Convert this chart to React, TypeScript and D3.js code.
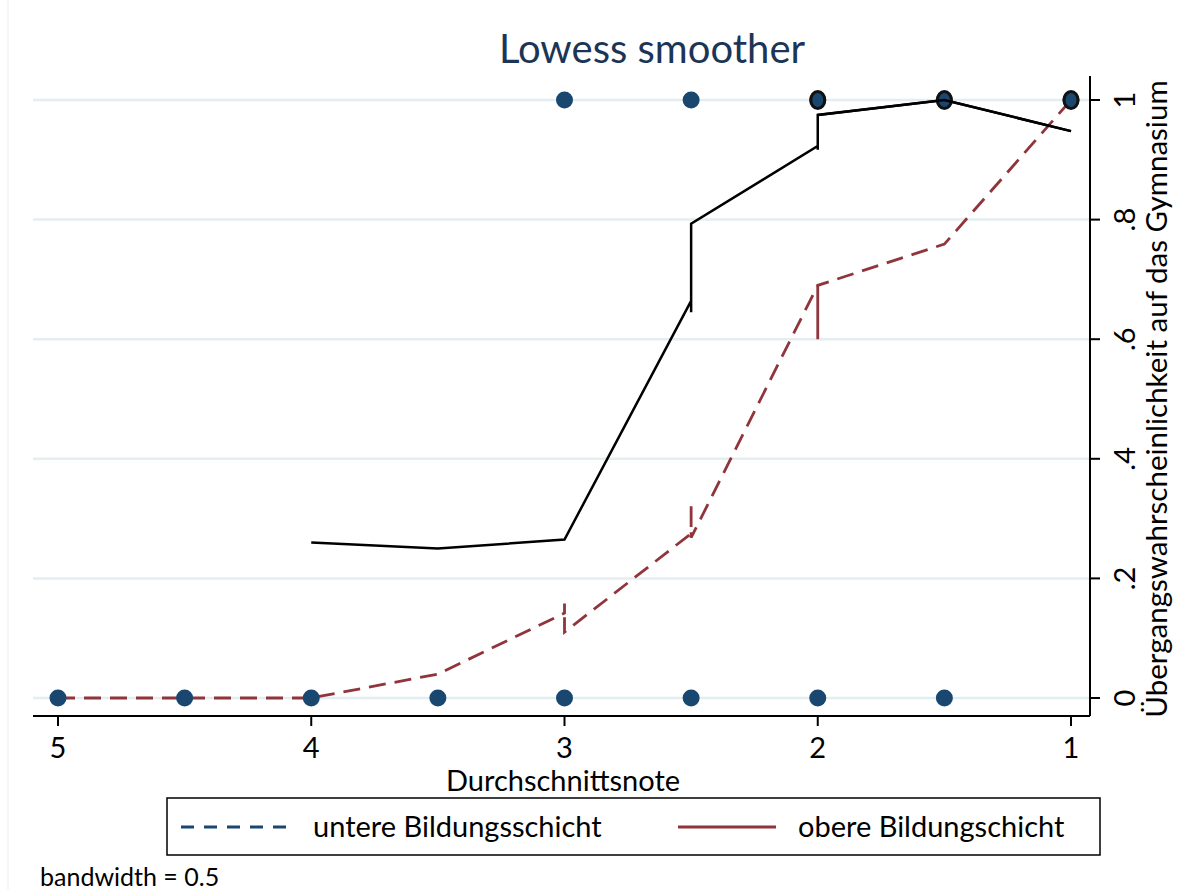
import React from "react";
import * as d3 from "d3";

// x ticks / y ticks
const xTicks = [5, 4, 3, 2, 1];
const yTicks = [0, 0.2, 0.4, 0.6, 0.8, 1];
const yTickLabels = ["0", ".2", ".4", ".6", ".8", "1"];

// observed points (Durchschnittsnote, Übergang)
const obsX = [5, 4.5, 4, 3.5, 3, 2.5, 2, 1.5, 3, 2.5, 2, 1.5, 1];
const obsY = [0, 0, 0, 0, 0, 0, 0, 0, 1, 1, 1, 1, 1];
// points drawn with black outline
const ringX = [2, 1.5, 1];
const ringY = [1, 1, 1];

// lowess fit, solid black (sorted by x, duplicates kept)
const solidX = [4, 3.5, 3, 2.5, 2.5, 2.5, 2, 2, 2, 1.5, 1];
const solidY = [0.26, 0.25, 0.265, 0.664, 0.645, 0.793, 0.923, 0.917, 0.975, 1.0, 0.948];

// lowess fit, dashed maroon
const dashX = [5, 4.5, 4, 3.5, 3, 3, 3, 2.5, 2.5, 2.5, 2, 2, 2, 1.5, 1];
const dashY = [0, 0, 0, 0.04, 0.142, 0.158, 0.11, 0.275, 0.325, 0.268, 0.69, 0.6, 0.69, 0.759, 1.0];

const NAVY = "#1a476f";
const MAROON = "#90353b";
const GRID = "#e4eef1";
const FONT = "Lato, 'Open Sans', sans-serif";

export default function App() {
  const W = 1201;
  const H = 890;
  const x = d3.scaleLinear().domain([5, 1]).range([58, 1071]);
  const y = d3.scaleLinear().domain([0, 1]).range([698, 100]);
  const left = 33;
  const right = 1090;
  const top = 76;
  const bottom = 716;

  const ln = d3
    .line<[number, number]>()
    .x((d) => x(d[0]))
    .y((d) => y(d[1]));

  const solid = ln(solidX.map((v, i) => [v, solidY[i]] as [number, number])) || "";
  const dashed = ln(dashX.map((v, i) => [v, dashY[i]] as [number, number])) || "";

  return (
    <svg
      width={W}
      height={H}
      style={{ position: "absolute", left: 0, top: 0, background: "#fff" }}
      fontFamily={FONT}
    >
      <rect x={0} y={0} width={W} height={H} fill="#fff" />
      <line x1={8} y1={0} x2={8} y2={H} stroke="#eeeeee" strokeWidth={1} />

      {/* gridlines */}
      {yTicks.map((t) => (
        <line key={t} x1={left} x2={right} y1={y(t)} y2={y(t)} stroke={GRID} strokeWidth={2.5} />
      ))}

      {/* title */}
      <text x={652} y={63} textAnchor="middle" fontSize={40} fill="#1c3557">
        Lowess smoother
      </text>

      {/* fitted lines */}
      <path d={dashed} fill="none" stroke={MAROON} strokeWidth={2.8} strokeDasharray="17,9" />
      <path d={solid} fill="none" stroke="#000" strokeWidth={2.5} />

      {/* observations */}
      {obsX.map((v, i) => (
        <circle key={"o" + i} cx={x(v)} cy={y(obsY[i])} r={8.5} fill={NAVY} />
      ))}
      {ringX.map((v, i) => (
        <ellipse
          key={"r" + i}
          cx={x(v)}
          cy={y(ringY[i])}
          rx={7}
          ry={8.5}
          fill={NAVY}
          stroke="#111"
          strokeWidth={3}
        />
      ))}
      {/* line passes over the ring at 1.5 */}
      <path d={ln([[2, 0.975], [1.5, 1.0], [1, 0.948]]) || ""} fill="none" stroke="#000" strokeWidth={2.5} />

      {/* bottom axis */}
      <line x1={left} x2={right} y1={bottom} y2={bottom} stroke="#000" strokeWidth={2} />
      {xTicks.map((t) => (
        <g key={t} transform={`translate(${x(t)},${bottom})`}>
          <line y1={0} y2={10} stroke="#000" strokeWidth={2} />
          <text y={42} textAnchor="middle" fontSize={29} fill="#000">
            {t}
          </text>
        </g>
      ))}
      <text x={563} y={791} textAnchor="middle" fontSize={29} fill="#000">
        Durchschnittsnote
      </text>

      {/* right axis */}
      <line x1={right} x2={right} y1={top} y2={bottom} stroke="#000" strokeWidth={2} />
      {yTicks.map((t, i) => (
        <g key={t} transform={`translate(${right},${y(t)})`}>
          <line x1={0} x2={10} stroke="#000" strokeWidth={2} />
          <text
            transform="translate(45,0) rotate(-90)"
            textAnchor="middle"
            fontSize={29}
            fill="#000"
          >
            {yTickLabels[i]}
          </text>
        </g>
      ))}
      <text
        transform={`translate(1167,${y(0.5)}) rotate(-90)`}
        textAnchor="middle"
        fontSize={29.5}
        fill="#000"
      >
        Übergangswahrscheinlichkeit auf das Gymnasium
      </text>

      {/* legend */}
      <rect x={167} y={798} width={933} height={57} fill="#fff" stroke="#000" strokeWidth={1.5} />
      <line x1={181} x2={290} y1={827} y2={827} stroke={NAVY} strokeWidth={2.8} strokeDasharray="13,10" />
      <text x={313} y={837} fontSize={29} fill="#000">
        untere Bildungsschicht
      </text>
      <line x1={678} x2={776} y1={827} y2={827} stroke={MAROON} strokeWidth={2.8} />
      <text x={798} y={837} fontSize={29} fill="#000">
        obere Bildungschicht
      </text>

      <text x={40} y={886} fontSize={25} fill="#000">
        bandwidth = 0.5
      </text>
    </svg>
  );
}
